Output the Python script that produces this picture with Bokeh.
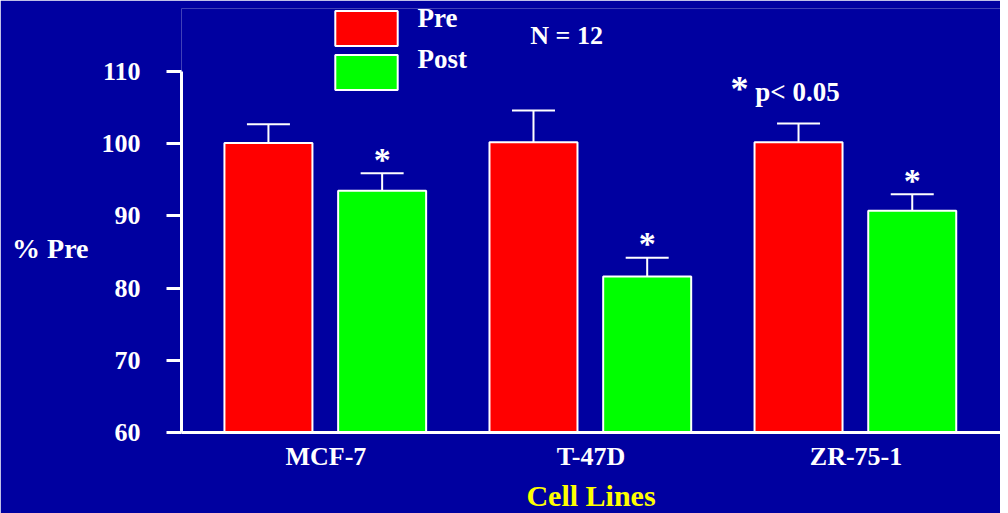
from bokeh.plotting import figure
from bokeh.models import ColumnDataSource, FactorRange, Range1d, Legend, LegendItem, Label
from bokeh.transform import dodge
from bokeh.core.properties import value
from bokeh.embed import file_html
from bokeh.resources import INLINE

cells = ["MCF-7", "T-47D", "ZR-75-1"]
series = ["Pre", "Post"]
pre = [100.1, 100.2, 100.2]
pre_err = [2.6, 4.4, 2.6]
post = [93.5, 81.6, 90.7]
post_err = [2.4, 2.6, 2.3]
y_ticks = [60, 70, 80, 90, 100, 110]

BG = "#0000A0"
FONT = "Liberation Serif"
PRE_OFF, POST_OFF, BAR_W = -0.217, 0.212, 0.332

src = ColumnDataSource(dict(
    cells=cells, pre=pre, post=post,
    pre_top=[v + e for v, e in zip(pre, pre_err)],
    post_top=[v + e for v, e in zip(post, post_err)],
))

p = figure(x_range=FactorRange(*cells, range_padding=0.03), y_range=Range1d(60, 118.73),
           frame_width=819, frame_height=424, min_border_left=181, min_border_right=0,
           min_border_top=8, min_border_bottom=60,
           toolbar_location=None, output_backend="svg",
           background_fill_color=BG, border_fill_color=BG, outline_line_color=None)
p.grid.visible = False

xp = dodge("cells", PRE_OFF, range=p.x_range)
xq = dodge("cells", POST_OFF, range=p.x_range)

r_pre = p.vbar(x=xp, top="pre", bottom=60, width=BAR_W, source=src,
               fill_color="#FF0000", line_color="white", line_width=2)
r_post = p.vbar(x=xq, top="post", bottom=60, width=BAR_W, source=src,
                fill_color="#00FF00", line_color="white", line_width=2)

for x, lo, hi in ((xp, "pre", "pre_top"), (xq, "post", "post_top")):
    p.segment(x0=x, y0=lo, x1=x, y1=hi, source=src, line_color="white", line_width=2)
    p.scatter(x=x, y=hi, marker="dash", size=43, source=src, line_color="white", line_width=2)

p.text(x=xq, y="post_top", text=value("*"), source=src, text_color="white",
       text_font=value(FONT), text_font_style="bold", text_font_size="34px",
       text_align="center", text_baseline="alphabetic", y_offset=-14)

# axes
p.yaxis.bounds = (60, 110)
p.yaxis.ticker = y_ticks
p.yaxis.axis_line_color = "white"
p.yaxis.axis_line_width = 3
p.yaxis.major_tick_line_color = "white"
p.yaxis.major_tick_line_width = 3
p.yaxis.major_tick_out = 15
p.yaxis.major_tick_in = 0
p.yaxis.minor_tick_line_color = None
p.yaxis.major_label_standoff = 26
p.yaxis.major_label_text_color = "white"
p.yaxis.major_label_text_font = FONT
p.yaxis.major_label_text_font_style = "bold"
p.yaxis.major_label_text_font_size = "26px"
p.yaxis.axis_label = "\n% Pre"
p.yaxis.axis_label_standoff = 10
p.yaxis.axis_label_text_color = "white"
p.yaxis.axis_label_text_font = FONT
p.yaxis.axis_label_text_font_style = "bold"
p.yaxis.axis_label_text_font_size = "28px"
p.yaxis.axis_label_text_line_height = 1.78
if "axis_label_orientation" in type(p.yaxis[0]).properties():
    p.yaxis.axis_label_orientation = "horizontal"

p.xaxis.axis_line_color = "white"
p.xaxis.axis_line_width = 3
p.xaxis.major_tick_line_color = None
p.xaxis.major_tick_out = 0
p.xaxis.major_label_standoff = 9
p.xaxis.major_label_text_color = "white"
p.xaxis.major_label_text_font = FONT
p.xaxis.major_label_text_font_style = "bold"
p.xaxis.major_label_text_font_size = "26px"
p.xaxis.axis_label = "Cell Lines"
p.xaxis.axis_label_standoff = 5
p.xaxis.axis_label_text_color = "#FFFF00"
p.xaxis.axis_label_text_font = FONT
p.xaxis.axis_label_text_font_style = "bold"
p.xaxis.axis_label_text_font_size = "30px"

# legend swatches (texts are placed as labels so they can sit higher than the swatch centre)
legend = Legend(items=[LegendItem(label="", renderers=[r_pre]),
                       LegendItem(label="", renderers=[r_post])],
                location=(146, 338), orientation="vertical",
                glyph_width=78, glyph_height=44, spacing=0, padding=0, margin=0,
                label_standoff=0, label_width=0, label_text_font_size="1px",
                border_line_color=None, background_fill_alpha=0)
p.add_layout(legend)

def lab(text, x, y, size, align="left", baseline="middle"):
    p.add_layout(Label(x=x, y=y, text=text, text_color="white", text_font=FONT,
                       text_font_style="bold", text_font_size=size,
                       text_align=align, text_baseline=baseline))

lab(series[0], 0.845, 117.4, "27px")
lab(series[1], 0.845, 111.8, "27px")
lab("N = 12", 1.408, 115.0, "26px", align="center")
lab("*", 2.026, 107.6, "36px")
lab("p< 0.05", 2.12, 107.2, "27px")

open("out.html", "w").write(file_html(p, INLINE))
